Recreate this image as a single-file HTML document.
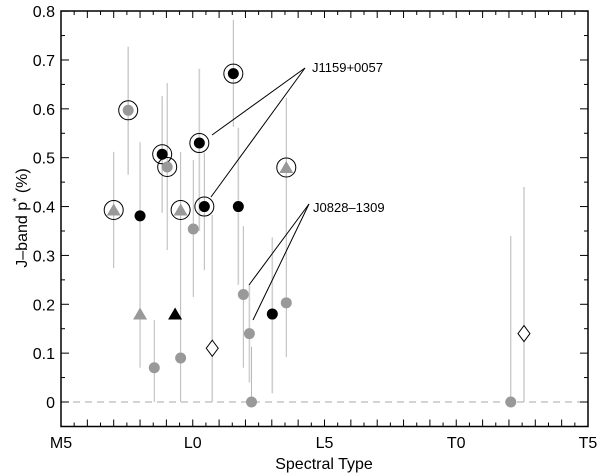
<!DOCTYPE html>
<html><head><meta charset="utf-8"><style>
html,body{margin:0;padding:0;background:#fff;}
svg{display:block;font-family:"Liberation Sans",sans-serif;}
</style></head><body>
<svg id="chart" width="600" height="474" viewBox="0 0 600 474">
<g id="bars"></g>
<line id="zeroline" stroke="#aaa" stroke-width="1" stroke-dasharray="7,5"/>
<g id="ann"></g>
<g id="marks"></g>
<g id="axes"></g>
</svg>
<script>
// data: spectral subtype index (M5=0, L0=5, L5=10, T0=15, T5=20), p value, error lo/hi
const subtypes = [2.0,2.55,3.0,3.0,3.54,3.84,4.03,4.33,4.54,4.54,5.02,5.25,5.44,5.74,6.54,6.73,6.92,7.15,7.23,8.02,8.55,8.55,17.07,17.57];
const pvals   = [0.393,0.597,0.381,0.18,0.07,0.507,0.481,0.18,0.393,0.09,0.354,0.53,0.40,0.11,0.672,0.40,0.22,0.14,0.0,0.18,0.203,0.48,0.0,0.14];
const errLo   = [0.274,0.465,0.07,null,0.0,0.387,0.311,null,0.0,null,0.215,0.35,0.27,0.0,0.563,0.24,0.07,0.04,0.0,0.018,0.092,null,0.0,0.0];
const errHi   = [0.512,0.727,0.532,null,0.168,0.626,0.653,null,0.512,null,0.495,0.682,0.51,0.383,0.782,0.561,0.36,0.24,0.113,0.337,0.623,null,0.34,0.44];
const shapes  = ['tri','circ','circ','tri','circ','circ','circ','tri','tri','circ','circ','circ','circ','dia','circ','circ','circ','circ','circ','circ','circ','tri','circ','dia'];
const colors  = ['g','g','k','g','g','k','g','k','g','g','g','k','k','w','k','k','g','g','g','k','g','g','g','w'];
const ringed  = [1,1,0,0,0,1,1,0,1,0,0,1,1,0,1,0,0,0,0,0,0,1,0,0];
const xTickLabels = ['M5','L0','L5','T0','T5'];
const xTickVals = [0,5,10,15,20];
const yTickVals = [0,0.1,0.2,0.3,0.4,0.5,0.6,0.7,0.8];
const yTickLabels = ['0','0.1','0.2','0.3','0.4','0.5','0.6','0.7','0.8'];

const L=61,R=588,T=11,B=426.5;
const xs=s=>L+s*(R-L)/20;
const ys=p=>402-p*488.6;
const NS='http://www.w3.org/2000/svg';
function mk(tag,attrs,parent){const e=document.createElementNS(NS,tag);for(const k in attrs)e.setAttribute(k,attrs[k]);parent.appendChild(e);return e;}
const bars=document.getElementById('bars'),marks=document.getElementById('marks'),axes=document.getElementById('axes'),ann=document.getElementById('ann');

const zl=document.getElementById('zeroline');
zl.setAttribute('x1',L);zl.setAttribute('x2',R);zl.setAttribute('y1',ys(0));zl.setAttribute('y2',ys(0));

const fill={g:'#999',k:'#000',w:'#fff'};
for(let i=0;i<subtypes.length;i++){
  const x=xs(subtypes[i]),y=ys(pvals[i]);
  if(errLo[i]!==null){
    const b=mk('line',{x1:x,x2:x,y1:ys(errLo[i]),y2:ys(errHi[i]),stroke:i%2?'#cfcfcf':'#b8b8b8','stroke-width':i%2?1.6:1},bars);
    
    
  }
  let m;
  if(shapes[i]==='circ') m=mk('circle',{cx:x,cy:y,r:5.5,fill:fill[colors[i]]},marks);
  else if(shapes[i]==='tri') m=mk('polygon',{points:`${x},${y-6.5} ${x+7},${y+5.5} ${x-7},${y+5.5}`,fill:fill[colors[i]]},marks);
  else m=mk('polygon',{points:`${x},${y-8} ${x+6},${y} ${x},${y+8} ${x-6},${y}`,fill:'#fff',stroke:'#000','stroke-width':1},marks);
  
  
  if(ringed[i]){
    const r=mk('circle',{cx:x,cy:y,r:9.5,fill:'none',stroke:'#000','stroke-width':1},marks);
    
    
  }
}

// annotations
[[305,68,212,135],[305,68,211,197],[309,204,249,285],[309,204,253,320]].forEach(a=>{
  const l=mk('line',{x1:a[0],y1:a[1],x2:a[2],y2:a[3],stroke:'#000','stroke-width':1},ann);
  
  
});
const t1=mk('text',{x:312,y:72,'font-size':13},ann);t1.textContent='J1159+0057';


const t2=mk('text',{x:313,y:212,'font-size':13},ann);t2.textContent='J0828\u20131309';



// frame
const fr=mk('rect',{x:L,y:T,width:R-L,height:B-T,fill:'none',stroke:'#000','stroke-width':1.5},axes);


// x ticks
for(let s=0;s<=20;s+=0.5){
  const x=xs(s),len=(s%1===0)?7:4;
  mk('line',{x1:x,x2:x,y1:B,y2:B-len,stroke:'#000','stroke-width':1},axes);
  mk('line',{x1:x,x2:x,y1:T,y2:T+len,stroke:'#000','stroke-width':1},axes);
}
xTickVals.forEach((v,i)=>{
  const t=mk('text',{x:xs(v),y:448,'font-size':16,'text-anchor':'middle'},axes);t.textContent=xTickLabels[i];
  
  
});
// y ticks
for(let p=-0.05;p<=0.81;p+=0.05){
  const y=ys(p),maj=Math.abs(Math.round(p*10)-p*10)<1e-6,len=maj?8:4;
  mk('line',{x1:L,x2:L+len,y1:y,y2:y,stroke:'#000','stroke-width':1},axes);
  mk('line',{x1:R,x2:R-len,y1:y,y2:y,stroke:'#000','stroke-width':1},axes);
}
yTickVals.forEach((v,i)=>{
  const t=mk('text',{x:55,y:ys(v)+6,'font-size':16,'text-anchor':'end'},axes);t.textContent=yTickLabels[i];
  
  
});
const xt=mk('text',{x:324,y:469,'font-size':16,'text-anchor':'middle'},axes);xt.textContent='Spectral Type';


const yt=mk('text',{x:0,y:0,'font-size':16,'text-anchor':'middle',transform:'translate(27,218) rotate(-90)'},axes);


yt.innerHTML='J\u2013band p<tspan dy="-7" font-size="11">*</tspan><tspan dy="7"> (%)</tspan>';
</script>
</body></html>
